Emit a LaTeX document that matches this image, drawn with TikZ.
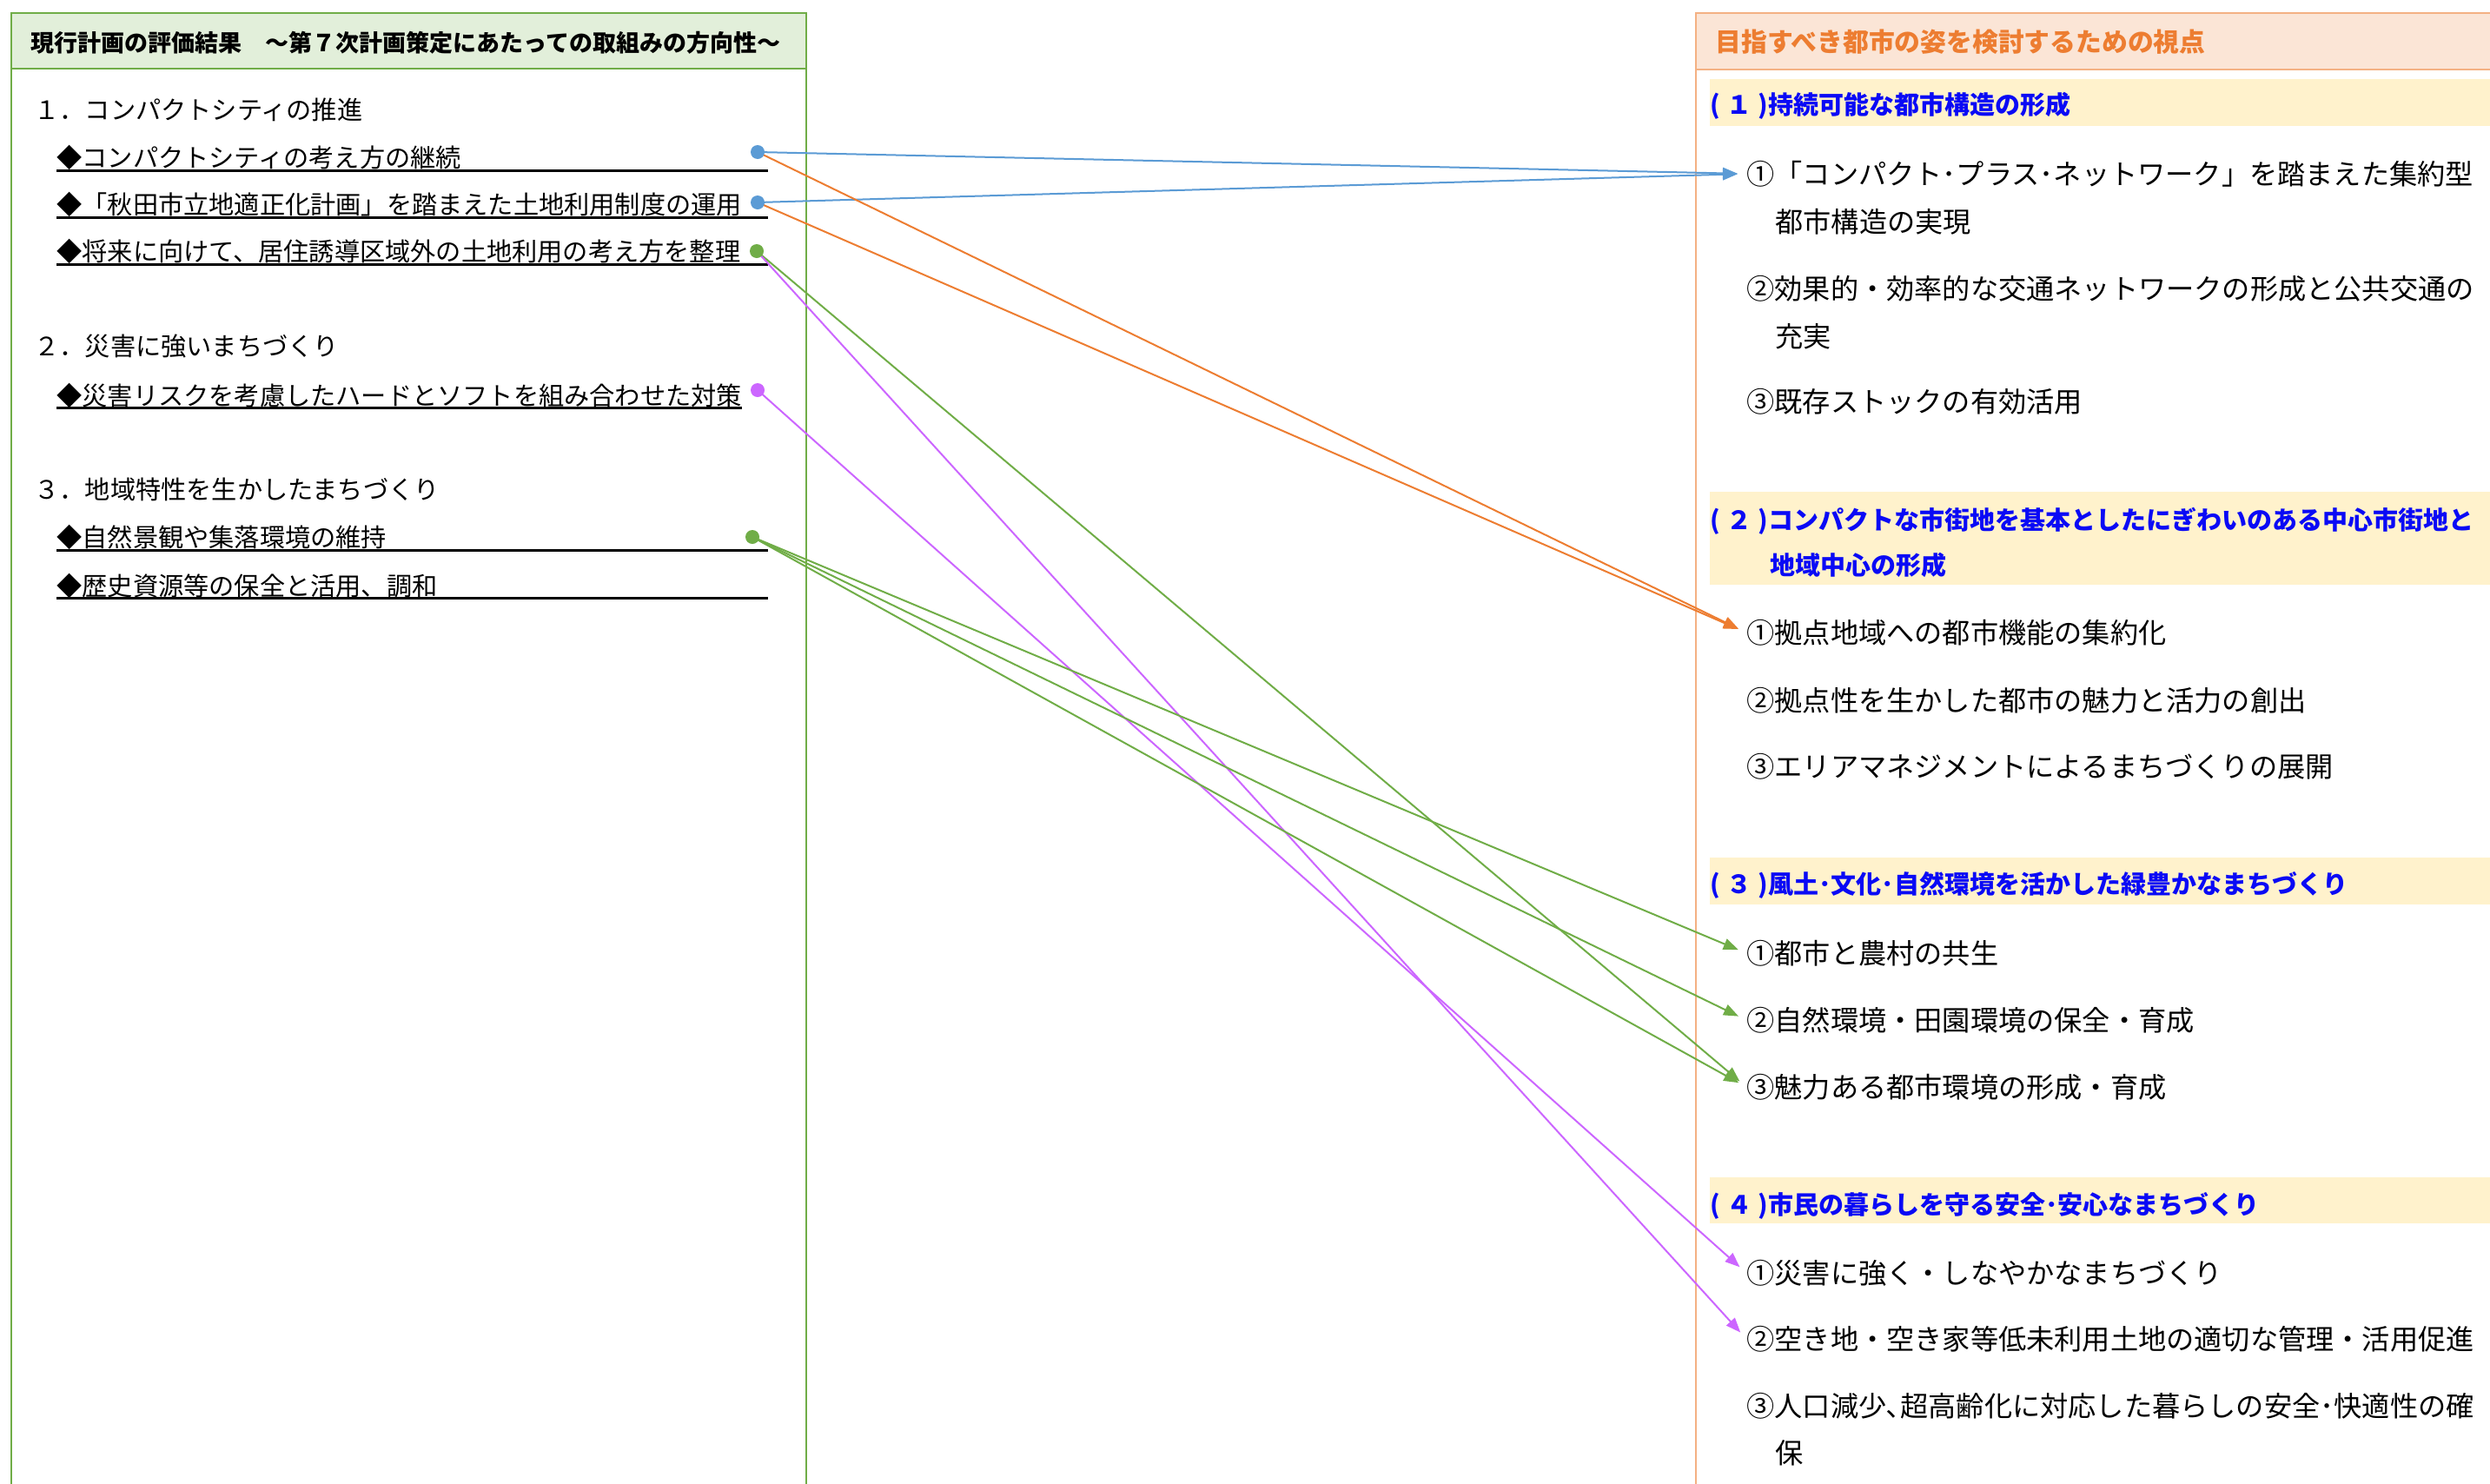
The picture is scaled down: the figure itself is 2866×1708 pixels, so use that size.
\documentclass[tikz,border=0pt]{standalone}
\usepackage{fontspec}
\newfontfamily\jp{Noto Sans CJK JP}
\usetikzlibrary{arrows.meta}
\pgfdeclarelayer{fg}
\pgfsetlayers{main,fg}
\definecolor{lgreen}{HTML}{70AD47}
\definecolor{lgfill}{HTML}{E2EFDA}
\definecolor{rorange}{HTML}{F4B183}
\definecolor{rfill}{HTML}{FBE5D6}
\definecolor{rhdc}{HTML}{ED7D31}
\definecolor{bandfill}{HTML}{FFF2CC}
\definecolor{bandblue}{HTML}{0A0AF5}
\definecolor{cblue}{HTML}{5B9BD5}
\definecolor{corange}{HTML}{ED7D31}
\definecolor{cgreen}{HTML}{70AD47}
\definecolor{cpurple}{HTML}{CC66FF}
\begin{document}
\begin{tikzpicture}[x=0.5pt,y=-0.5pt,
  ljp/.style={anchor=west,inner sep=0pt,text height=12.85pt,text depth=1.75pt,font=\jp\fontsize{14.6pt}{17pt}\selectfont},
  lhd/.style={anchor=west,inner sep=0pt,text height=11.9pt,text depth=1.6pt,font=\jp\bfseries\fontsize{13.5pt}{16pt}\selectfont},
  rhd/.style={anchor=west,inner sep=0pt,text height=13.1pt,text depth=1.8pt,text=rhdc,font=\jp\bfseries\fontsize{14.9pt}{18pt}\selectfont},
  bandt/.style={anchor=west,inner sep=0pt,text height=12.76pt,text depth=1.74pt,text=bandblue,font=\jp\bfseries\fontsize{14.5pt}{17pt}\selectfont},
  ritem/.style={anchor=west,inner sep=0pt,text height=14.17pt,text depth=1.93pt,font=\jp\fontsize{16.1pt}{20pt}\selectfont},
  uline/.style={line width=1.5pt},
  enddot/.style={circle,inner sep=0pt,minimum size=8pt,fill=#1},
  conn/.style={draw=#1,line width=1pt,-{Triangle[length=8.5pt,width=6.5pt]},shorten >=5pt},
]
\useasboundingbox (0,0) rectangle (2866,1708);
\fill[white] (0,0) rectangle (2866,1708);
% left panel
\draw[lgreen,line width=1pt] (13,15) rectangle (928,1740);
\filldraw[fill=lgfill,draw=lgreen,line width=1pt] (13,15) rectangle (928,79);
\node[lhd] (lh) at (35,49) {現行計画の評価結果　～第７次計画策定にあたっての取組みの方向性～};
% right panel
\draw[rorange,line width=1pt] (1952,15) rectangle (2900,1740);
\filldraw[fill=rfill,draw=rorange,line width=1pt] (1952,15) rectangle (2900,80);
\node[rhd] (rh) at (1974,48) {目指すべき都市の姿を検討するための視点};
% bands
\fill[bandfill] (1968,91) rectangle (2900,145);
\fill[bandfill] (1968,566) rectangle (2900,673);
\fill[bandfill] (1968,987) rectangle (2900,1041);
\fill[bandfill] (1968,1355) rectangle (2900,1408);
\node[bandt] (b1) at (1968,120) {(\kern.25em１\kern.25em)持続可能な都市構造の形成};
\node[bandt] (b2) at (1968,598) {(\kern.25em２\kern.25em)コンパクトな市街地を基本としたにぎわいのある中心市街地と};
\node[bandt] (b2b) at (2037,650) {地域中心の形成};
\node[bandt] (b3) at (1968,1017) {(\kern.25em３\kern.25em)風土･文化･自然環境を活かした緑豊かなまちづくり};
\node[bandt] (b4) at (1968,1386) {(\kern.25em４\kern.25em)市民の暮らしを守る安全･安心なまちづくり};
% right items
\node[ritem] (t11) at (2010,200) {①「コンパクト･プラス･ネットワーク」を踏まえた集約型};
\node[ritem] (t11b) at (2043,255) {都市構造の実現};
\node[ritem] (t12) at (2010,332) {②効果的・効率的な交通ネットワークの形成と公共交通の};
\node[ritem] (t12b) at (2043,387) {充実};
\node[ritem] (t13) at (2010,462) {③既存ストックの有効活用};
\node[ritem] (t21) at (2010,728) {①拠点地域への都市機能の集約化};
\node[ritem] (t22) at (2010,806) {②拠点性を生かした都市の魅力と活力の創出};
\node[ritem] (t23) at (2010,882) {③エリアマネジメントによるまちづくりの展開};
\node[ritem] (t31) at (2010,1097) {①都市と農村の共生};
\node[ritem] (t32) at (2010,1174) {②自然環境・田園環境の保全・育成};
\node[ritem] (t33) at (2010,1251) {③魅力ある都市環境の形成・育成};
\node[ritem] (t41) at (2010,1465) {①災害に強く・しなやかなまちづくり};
\node[ritem] (t42) at (2010,1541) {②空き地・空き家等低未利用土地の適切な管理・活用促進};
\node[ritem] (t43) at (2010,1618) {③人口減少､超高齢化に対応した暮らしの安全･快適性の確};
\node[ritem] (t43b) at (2043,1672) {保};
% left items
\node[ljp] (h1) at (39,126) {１．コンパクトシティの推進};
\node[ljp] (i1) at (65,181) {◆コンパクトシティの考え方の継続};
\node[ljp] (i2) at (65,235) {◆「秋田市立地適正化計画」を踏まえた土地利用制度の運用};
\node[ljp] (i3) at (65,289) {◆将来に向けて、居住誘導区域外の土地利用の考え方を整理};
\node[ljp] (h2) at (39,398) {２．災害に強いまちづくり};
\node[ljp] (i4) at (65,455) {◆災害リスクを考慮したハードとソフトを組み合わせた対策};
\node[ljp] (h3) at (39,563) {３．地域特性を生かしたまちづくり};
\node[ljp] (i5) at (65,618) {◆自然景観や集落環境の維持};
\node[ljp] (i6) at (65,674) {◆歴史資源等の保全と活用、調和};
\draw[uline] (65,196) -- (884,196);
\draw[uline] (65,250) -- (884,250);
\draw[uline] (65,304) -- (884,304);
\draw[uline] (65,469) -- (854,469);
\draw[uline] (65,633) -- (884,633);
\draw[uline] (65,688) -- (884,688);
% dots
\begin{pgfonlayer}{fg}
\node[enddot=cblue] (d1) at (872,175) {};
\node[enddot=cblue] (d2) at (872,233) {};
\node[enddot=cgreen] (d3) at (871,289) {};
\node[enddot=cpurple] (d4) at (872,449) {};
\node[enddot=cgreen] (d5) at (866,618) {};
\end{pgfonlayer}
% connectors
\draw[conn=cblue] (d1.center) -- (t11.west);
\draw[conn=cblue] (d2.center) -- (t11.west);
\draw[conn=corange] (d1.center) -- (t21.west);
\draw[conn=corange] (d2.center) -- (t21.west);
\draw[conn=cgreen] (d3.center) -- (t33.west);
\draw[conn=cpurple] (d3.center) -- (t42.west);
\draw[conn=cpurple] (d4.center) -- (t41.west);
\draw[conn=cgreen] (d5.center) -- (t31.west);
\draw[conn=cgreen] (d5.center) -- (t32.west);
\draw[conn=cgreen] (d5.center) -- (t33.west);
\end{tikzpicture}
\end{document}
